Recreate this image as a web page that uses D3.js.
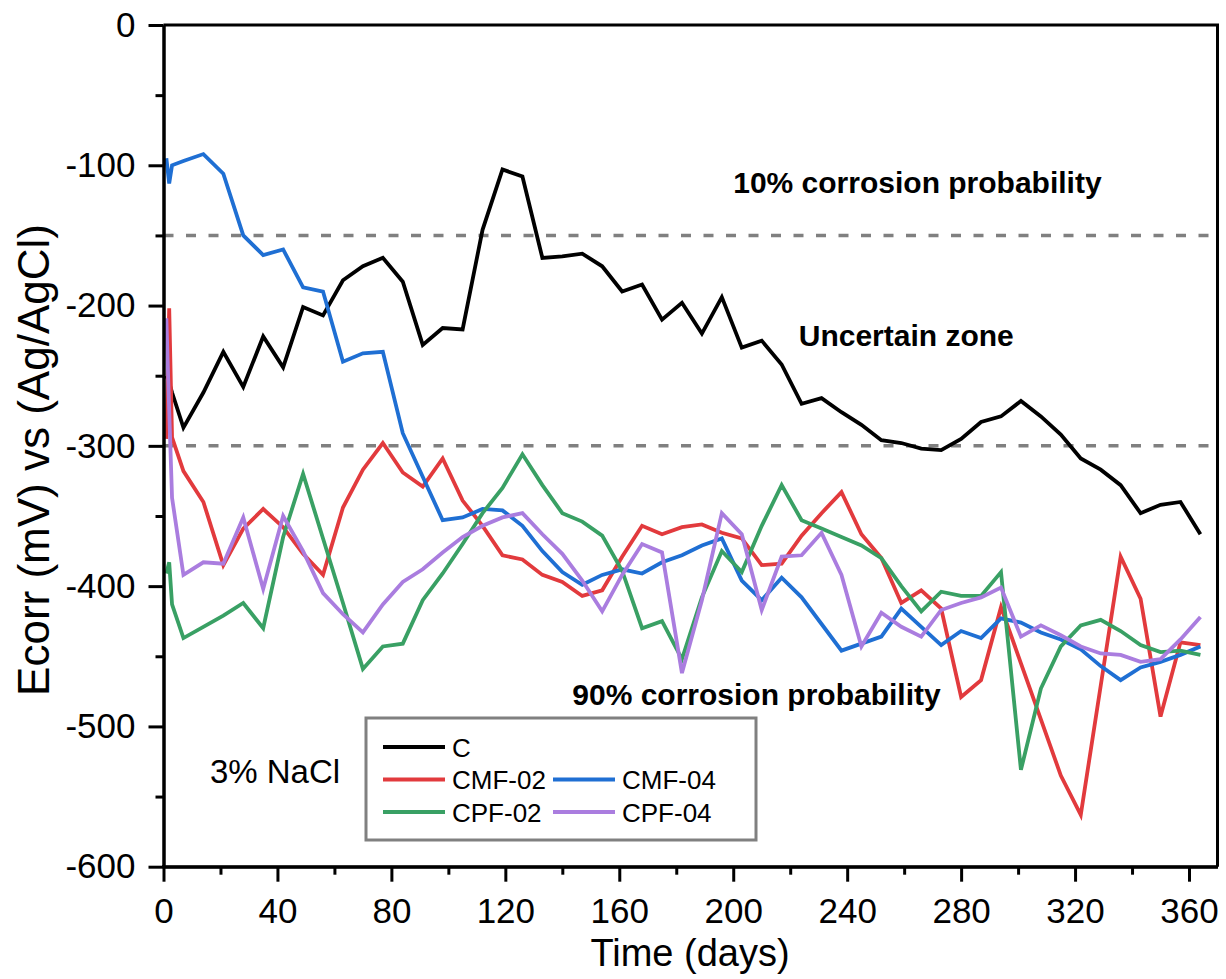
<!DOCTYPE html>
<html>
<head>
<meta charset="utf-8">
<script src="https://cdn.jsdelivr.net/npm/d3@7/dist/d3.min.js"></script>
<style>
    body { margin: 0; background: #fff; }
    svg text { font-family: Arial, "Liberation Sans", sans-serif; fill: #000; }
</style>
</head>
<body>
<div id="chart"></div>
<script>
// sampling days (a few early readings, then weekly)
const days = [1, 2, 3, 7, 14, 21, 28, 35, 42, 49, 56, 63, 70, 77, 84, 91, 98, 105, 112, 119,
    126, 133, 140, 147, 154, 161, 168, 175, 182, 189, 196, 203, 210, 217, 224, 231, 238, 245,
    252, 259, 266, 273, 280, 287, 294, 301, 308, 315, 322, 329, 336, 343, 350, 357, 364];

// Ecorr (mV) per series
const valuesC = [-250, -255, -262, -287, -262, -233, -258, -222, -244, -201, -207, -182, -172, -166,
    -183, -228, -216, -217, -146, -103, -108, -166, -165, -163, -172, -190, -185, -210, -198, -220,
    -194, -230, -225, -242, -270, -266, -276, -285, -296, -298, -302, -303, -295, -283, -279, -268,
    -279, -292, -309, -317, -328, -348, -342, -340, -363];
const valuesCMF02 = [-295, -202, -294, -318, -340, -385, -359, -345, -358, -377, -392, -344, -317, -298,
    -319, -329, -309, -339, -357, -378, -381, -392, -397, -407, -403, -379, -357, -363, -358, -356,
    -362, -366, -385, -384, -364, -348, -333, -363, -380, -412, -403, -416, -479, -467, -415, -455,
    -495, -535, -563, -471, -379, -409, -493, -440, -442];
const valuesCMF04 = [-95, -113, -100, -97, -92, -106, -150, -164, -160, -187, -190, -240, -234, -233,
    -291, -322, -353, -351, -345, -346, -357, -375, -390, -399, -392, -388, -391, -383, -378, -371,
    -366, -396, -410, -394, -408, -427, -446, -441, -436, -416, -429, -442, -432, -437, -423, -426,
    -433, -438, -445, -457, -467, -458, -454, -449, -443];
const valuesCPF02 = [-391, -383, -413, -437, -429, -421, -412, -430, -365, -320, -366, -412, -459, -443,
    -441, -410, -391, -370, -348, -330, -306, -328, -348, -354, -364, -389, -430, -425, -452, -408,
    -375, -390, -357, -328, -353, -359, -365, -371, -380, -400, -418, -404, -407, -407, -390, -531,
    -473, -443, -428, -424, -432, -442, -447, -446, -449];
const valuesCPF04 = [-209, -275, -337, -392, -383, -384, -351, -402, -350, -375, -405, -420, -433, -413,
    -397, -388, -376, -365, -357, -351, -348, -363, -377, -396, -418, -392, -370, -376, -462, -410,
    -348, -363, -417, -379, -378, -362, -392, -443, -419, -429, -436, -417, -412, -408, -401, -436,
    -428, -435, -443, -448, -449, -454, -452, -438, -422];

const seriesNames = ["C", "CMF-02", "CMF-04", "CPF-02", "CPF-04"];
const seriesValues = [valuesC, valuesCMF02, valuesCMF04, valuesCPF02, valuesCPF04];

// axis ticks
const xTicks = [0, 40, 80, 120, 160, 200, 240, 280, 320, 360];
const xMinorTicks = [20, 60, 100, 140, 180, 220, 260, 300, 340];
const yTicks = [-600, -500, -400, -300, -200, -100, 0];
const yMinorTicks = [-550, -450, -350, -250, -150, -50];

// corrosion probability thresholds (mV)
const thresholds = [-150, -300];

// initialize after page ready
document.addEventListener("DOMContentLoaded", main);

function main() {
    const width = 1226, height = 979;
    const colors = ["#000000", "#e23a3d", "#1f6fd3", "#39a064", "#aa7ddf"];

    const svg = d3.select("#chart")
        .append("svg")
        .attr("width", width)
        .attr("height", height);

    // scales
    const x = d3.scaleLinear().domain([0, 370]).range([163.5, 1217.5]);
    const y = d3.scaleLinear().domain([-600, 0]).range([866.7, 25]);

    // dashed threshold lines
    svg.selectAll(".threshold")
        .data(thresholds)
        .enter()
        .append("line")
        .attr("class", "threshold")
        .attr("x1", x(0)).attr("x2", x(370))
        .attr("y1", d => y(d)).attr("y2", d => y(d))
        .attr("stroke", "#808080")
        .attr("stroke-width", 3.5)
        .attr("stroke-dasharray", "10,12.5");

    // data lines
    const line = d3.line()
        .x((d, i) => x(days[i]))
        .y(d => y(d));
    svg.selectAll(".series")
        .data(seriesValues)
        .enter()
        .append("path")
        .attr("class", "series")
        .attr("d", line)
        .attr("fill", "none")
        .attr("stroke", (d, i) => colors[i])
        .attr("stroke-width", 3.8)
        .attr("stroke-linejoin", "miter");

    // frame (top and right)
    svg.append("path")
        .attr("d", `M${x(0)},${y(0)}H${x(370)}V${y(-600)}`)
        .attr("fill", "none")
        .attr("stroke", "#000")
        .attr("stroke-width", 3);

    // axes, plain hyphen for negatives like the original
    const fmt = d => String(d);
    const xAxis = svg.append("g")
        .attr("transform", `translate(0,${y(-600)})`)
        .call(d3.axisBottom(x).tickValues(xTicks).tickSize(15).tickSizeOuter(0).tickPadding(16).tickFormat(fmt));
    svg.append("g")
        .attr("transform", `translate(0,${y(-600)})`)
        .call(d3.axisBottom(x).tickValues(xMinorTicks).tickSize(8).tickSizeOuter(0).tickFormat(""));
    svg.append("g")
        .attr("transform", `translate(${x(0)},0)`)
        .call(d3.axisLeft(y).tickValues(yTicks).tickSize(15).tickSizeOuter(0).tickPadding(13).tickFormat(fmt));
    svg.append("g")
        .attr("transform", `translate(${x(0)},0)`)
        .call(d3.axisLeft(y).tickValues(yMinorTicks).tickSize(8).tickSizeOuter(0).tickFormat(""));

    svg.selectAll(".domain").attr("stroke", "#000").attr("stroke-width", 3);
    svg.selectAll(".tick line").attr("stroke", "#000").attr("stroke-width", 3);
    svg.selectAll(".tick text")
        .attr("font-size", 35)
        .attr("font-family", "Arial, 'Liberation Sans', sans-serif")
        .attr("fill", "#000");
    // extend x domain line under the left axis
    xAxis.select(".domain").attr("d", `M${x(0) - 1.5},0H${x(370)}`);

    // axis titles
    svg.append("text")
        .attr("x", 690)
        .attr("y", 966)
        .attr("text-anchor", "middle")
        .attr("font-size", 38)
        .text("Time (days)");
    svg.append("text")
        .attr("transform", "translate(49,460) rotate(-90)")
        .attr("text-anchor", "middle")
        .attr("font-size", 44)
        .text("Ecorr (mV) vs (Ag/AgCl)");

    // zone annotations
    svg.append("text")
        .attr("x", x(200)).attr("y", y(-120))
        .attr("font-size", 30).attr("font-weight", "bold")
        .text("10% corrosion probability");
    svg.append("text")
        .attr("x", x(223)).attr("y", y(-229))
        .attr("font-size", 30).attr("font-weight", "bold")
        .text("Uncertain zone");
    svg.append("text")
        .attr("x", x(143.5)).attr("y", y(-485))
        .attr("font-size", 30).attr("font-weight", "bold")
        .text("90% corrosion probability");
    svg.append("text")
        .attr("x", x(16.3)).attr("y", y(-540.5))
        .attr("font-size", 33)
        .text("3% NaCl");

    // legend
    const legend = svg.append("g");
    legend.append("rect")
        .attr("x", 366).attr("y", 718)
        .attr("width", 390).attr("height", 122)
        .attr("fill", "#fff")
        .attr("stroke", "#808080")
        .attr("stroke-width", 3);
    // C on its own row, then two columns
    const slots = [[383, 747], [383, 779.5], [553, 779.5], [383, 812], [553, 812]];
    seriesNames.forEach(function(name, i) {
        let s = slots[i];
        legend.append("line")
            .attr("x1", s[0]).attr("x2", s[0] + 62)
            .attr("y1", s[1]).attr("y2", s[1])
            .attr("stroke", colors[i])
            .attr("stroke-width", 4);
        legend.append("text")
            .attr("x", s[0] + 69).attr("y", s[1] + 9.5)
            .attr("font-size", 26)
            .text(name);
    });
}
</script>
</body>
</html>
